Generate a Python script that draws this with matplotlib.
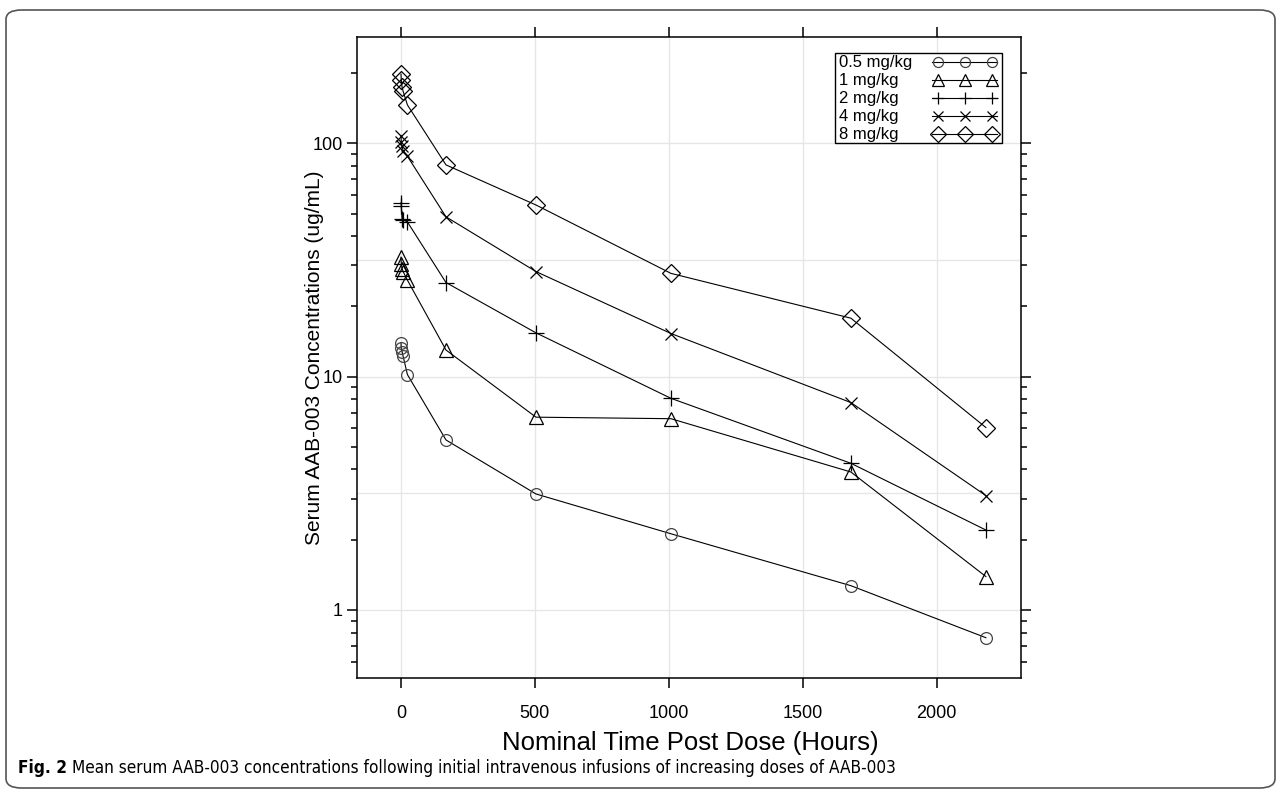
import numpy as np
import matplotlib
matplotlib.use('Agg')
import matplotlib.pyplot as plt
from matplotlib import font_manager
from matplotlib.lines import Line2D
from matplotlib.patches import FancyBboxPatch, Rectangle
from matplotlib.ticker import FixedLocator, LogLocator, NullFormatter

# mean serum concentrations (ug/mL) by nominal time post dose (hours)
time_h = [0, 1, 4, 8, 24, 168, 504, 1008, 1680, 2184]
dose_labels = ["0.5 mg/kg", "1 mg/kg", "2 mg/kg", "4 mg/kg", "8 mg/kg"]
conc_0_5 = [13.9, 13.2, 12.8, 12.2, 10.2, 5.35, 3.14, 2.12, 1.27, 0.76]
conc_1 = [32.5, 30.5, 29.0, 28.2, 25.9, 13.0, 6.7, 6.6, 3.9, 1.39]
conc_2 = [55.6, 53.8, 47.5, 47.0, 46.0, 25.3, 15.4, 8.07, 4.25, 2.2]
conc_4 = [108, 101, 97, 93, 88, 48.4, 28.2, 15.3, 7.74, 3.09]
conc_8 = [198, 186, 174, 167, 146, 80.8, 54.4, 27.7, 17.8, 6.05]
x_ticks = [0, 500, 1000, 1500, 2000]
y_ticks = [1, 10, 100]
y_ticklabels = ["1", "10", "100"]

series = [conc_0_5, conc_1, conc_2, conc_4, conc_8]
marker_styles = [('o', 8.5, '#444444'), ('^', 10, 'black'), ('+', 11, 'black'),
                 ('x', 8, 'black'), ('D', 9.5, 'black')]

plt.rcParams['font.family'] = ['Liberation Sans', 'DejaVu Sans']

W, H = 1281, 795
fig = plt.figure(figsize=(W / 100, H / 100), dpi=100)


def fx(px):
    return px / W


def fy(py):
    return 1 - py / H


# outer rounded frame
frame = FancyBboxPatch((fx(6), fy(788)), fx(1269), 778 / H,
                       boxstyle="round,pad=0,rounding_size=0.012",
                       transform=fig.transFigure, fill=False,
                       edgecolor='#555555', linewidth=1.2)
fig.patches.append(frame)

left, right, top, bottom = 357, 1021, 37, 678
ax = fig.add_axes([fx(left), fy(bottom), (right - left) / W, (bottom - top) / H])

px_per_h = (936.6 - 401) / 2000
x0_px = 401
ax.set_xlim((left - x0_px) / px_per_h, (right - x0_px) / px_per_h)
y100, dec = 143.3, 233.3
ax.set_yscale('log')
ax.set_ylim(10 ** (2 - (bottom - y100) / dec), 10 ** (2 + (y100 - top) / dec))

# light grid
for xv in x_ticks:
    ax.axvline(xv, color='#e6e6e6', lw=1.0, zorder=0)
for yv in 10 ** np.arange(0, 2.6, 0.5):
    ax.axhline(yv, color='#e6e6e6', lw=1.0, zorder=0)

for conc, label, (m, ms, mc) in zip(series, dose_labels, marker_styles):
    ax.plot(time_h, conc, color='black', lw=0.8, marker=m, ms=ms,
            mfc='none', mec=mc, mew=0.9, label=label, zorder=3)

ax.xaxis.set_major_locator(FixedLocator(x_ticks))
ax.yaxis.set_major_locator(FixedLocator(y_ticks))
ax.set_yticklabels(y_ticklabels)
ax.yaxis.set_minor_locator(LogLocator(base=10, subs=np.arange(2, 10)))
ax.yaxis.set_minor_formatter(NullFormatter())
ax.tick_params(axis='both', which='major', direction='out', length=7.5, width=1.1,
               labelsize=13, top=True, right=True, labeltop=False, labelright=False)
ax.tick_params(axis='x', which='major', pad=12)
ax.tick_params(axis='y', which='major', pad=3)
ax.tick_params(axis='y', which='minor', direction='out', length=4.5, width=1.1,
               left=True, right=True)
ax.tick_params(axis='x', which='minor', bottom=False, top=False)
for sp in ax.spines.values():
    sp.set_linewidth(1.1)

fig.text(fx(690), fy(743), "Nominal Time Post Dose (Hours)", fontsize=18.5,
         ha='center', va='center')
fig.text(fx(314), fy(358), "Serum AAB-003 Concentrations (ug/mL)", fontsize=15,
         ha='center', va='center', rotation=90)

# legend box: text on the left, line with three markers on the right
lg_left, lg_right, lg_top, lg_bottom = 835, 1002, 53, 143
fig.patches.append(Rectangle((fx(lg_left), fy(lg_bottom)), (lg_right - lg_left) / W,
                             (lg_bottom - lg_top) / H, transform=fig.transFigure,
                             facecolor='white', edgecolor='black', lw=1.0, zorder=5))
row_h = (lg_bottom - lg_top) / len(dose_labels)
for i, (label, (m, ms, mc)) in enumerate(zip(dose_labels, marker_styles)):
    yc = lg_top + row_h * (i + 0.5)
    fig.text(fx(lg_left + 4), fy(yc), label, fontsize=12, ha='left', va='center', zorder=6)
    fig.add_artist(Line2D([fx(932), fx(997)], [fy(yc), fy(yc)], color='black', lw=0.8,
                          transform=fig.transFigure, zorder=6))
    fig.add_artist(Line2D([fx(938), fx(965), fx(992)], [fy(yc)] * 3, ls='none',
                          marker=m, ms=ms * 0.85, mfc='none', mec=mc, mew=0.9,
                          transform=fig.transFigure, zorder=6))

# caption
names = {f.name for f in font_manager.fontManager.ttflist}
cap_fam = ['Liberation Sans Narrow'] if 'Liberation Sans Narrow' in names else ['DejaVu Sans']
cap_kw = dict(fontsize=12.3, va='center', family=cap_fam)
if cap_fam == ['DejaVu Sans']:
    cap_kw['fontstretch'] = 'condensed'
t1 = fig.text(fx(18), fy(768), "Fig. 2", fontweight='bold', **cap_kw)
fig.canvas.draw()
bb = t1.get_window_extent()
fig.text((bb.x1 + 5) / W, fy(768),
         "Mean serum AAB-003 concentrations following initial intravenous infusions "
         "of increasing doses of AAB-003", **cap_kw)

fig.savefig("out.png", dpi=100)
